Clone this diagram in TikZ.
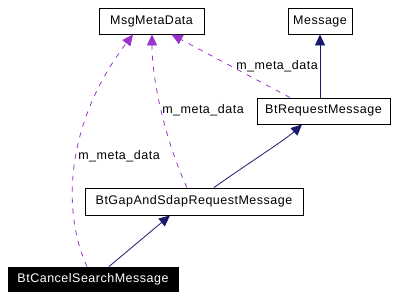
\documentclass[tikz,border=0pt]{standalone}
\usepackage{fontspec}
\setmainfont[LetterSpace=4]{Liberation Sans}
\usetikzlibrary{arrows.meta}

\definecolor{edgeblue}{HTML}{191970}
\definecolor{edgepurple}{HTML}{9A32CD}

\tikzset{
    cls/.style={draw, line width=0.9pt, fill=white, inner sep=0pt, font=\fontsize{12.5}{15}\selectfont},
    focus/.style={cls, fill=black, text=white},
    inherit/.style={edgeblue, line width=0.8pt, -{Triangle[length=11pt,width=10pt]}},
    uses/.style={edgepurple, line width=0.8pt, dash pattern=on 5pt off 6pt, -{Triangle[length=11pt,width=10pt]}},
    lbl/.style={font=\fontsize{12.5}{15}\selectfont, inner sep=1pt}
}

\begin{document}
\begin{tikzpicture}[x=1pt, y=-1pt]
    \useasboundingbox (0,0) rectangle (400,299);

    % Clases
    \node[cls, minimum width=105pt, minimum height=26pt] (meta) at (151.5,21) {MsgMetaData};
    \node[cls, minimum width=64pt, minimum height=26pt] (msg) at (320,21) {Message};
    \node[cls, minimum width=133pt, minimum height=26pt] (req) at (323.5,111) {BtRequestMessage};
    \node[cls, minimum width=218pt, minimum height=27pt] (gap) at (194,201.5) {BtGapAndSdapRequestMessage};
    \node[focus, minimum width=170pt, minimum height=24pt] (cancel) at (93,279) {BtCancelSearchMessage};

    % Herencia
    \draw[inherit] (req.north -| msg.south) -- (msg.south);
    \draw[inherit] ([xshift=20pt]gap.north) .. controls (250,162) and (285,140) .. ([xshift=-21.5pt]req.south);
    \draw[inherit] ([xshift=16pt]cancel.north) -- ([xshift=-24pt]gap.south);

    % Uso de m_meta_data
    \draw[uses] ([xshift=-33.5pt]req.north) -- ([xshift=20pt]meta.south);
    \draw[uses] ([xshift=-7pt]gap.north) .. controls (165,140) and (152,80) .. ([xshift=0.5pt]meta.south);
    \draw[uses] ([xshift=-6pt]cancel.north) .. controls (65,220) and (60,130) .. ([xshift=-18.5pt]meta.south);

    % Etiquetas
    \node[lbl] (l1) at (277,66) {m\_meta\_data};
    \node[lbl] (l2) at (203,110) {m\_meta\_data};
    \node[lbl] (l3) at (119,156) {m\_meta\_data};
\end{tikzpicture}
\end{document}
